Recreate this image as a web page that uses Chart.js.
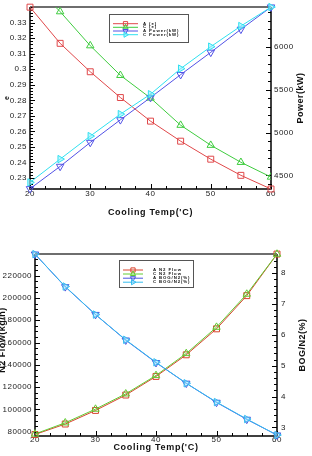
<!DOCTYPE html>
<html><head><meta charset="utf-8">
<script src="https://cdn.jsdelivr.net/npm/chart.js@4/dist/chart.umd.min.js"></script>
<style>
html,body{margin:0;padding:0;background:#fff;width:312px;height:456px;overflow:hidden}
canvas{position:absolute;left:0}
</style></head><body>
<canvas id="c1" width="312" height="228" style="top:0"></canvas>
<canvas id="c2" width="312" height="228" style="top:228px"></canvas>
<script>
// ---------- data ----------
const temps = [20, 25, 30, 35, 40, 45, 50, 55, 60];
const effA = [0.3400, 0.3167, 0.2984, 0.2818, 0.2666, 0.2537, 0.2421, 0.2317, 0.2229];
const effC = [0.3570, 0.3371, 0.3152, 0.2961, 0.2815, 0.2640, 0.2511, 0.2401, 0.2306];
const powerA = [4345, 4605, 4884, 5148, 5407, 5674, 5934, 6202, 6461];
const powerC = [4419, 4690, 4958, 5214, 5446, 5744, 6000, 6240, 6461];
const flowA = [77500, 86900, 99100, 112900, 129600, 149000, 172300, 202100, 239400];
const flowC = [78000, 88000, 100300, 114000, 130500, 150200, 173800, 203500, 239400];
const bogA = [8.62, 7.56, 6.66, 5.83, 5.10, 4.43, 3.81, 3.26, 2.75];
const bogC = [8.62, 7.57, 6.66, 5.84, 5.11, 4.43, 3.82, 3.27, 2.75];

const xTicks = [20, 30, 40, 50, 60];
const effTicks = [0.23, 0.24, 0.25, 0.26, 0.27, 0.28, 0.29, 0.30, 0.31, 0.32, 0.33];
const powerTicks = [4500, 5000, 5500, 6000];
const flowTicks = [80000, 100000, 120000, 140000, 160000, 180000, 200000, 220000];
const bogTicks = [3, 4, 5, 6, 7, 8];

const labels1 = ['A (e)', 'C (e)', 'A Power(kW)', 'C Power(kW)'];
const labels2 = ['A N2 Flow', 'C N2 Flow', 'A BOG/N2(%)', 'C BOG/N2(%)'];
const xTitle = "Cooling Temp('C)";
const effTitle = 'e';
const powerTitle = 'Power(kW)';
const flowTitle = 'N2 Flow(kg/h)';
const bogTitle = 'BOG/N2(%)';

// ---------- helpers ----------
const FONT = "'Liberation Sans', Arial, Helvetica, sans-serif";
const pts = (xs, ys) => xs.map((x, i) => ({x: x, y: ys[i]}));

function stepValues(scale, step) {
  const out = [];
  const s = Math.ceil(scale.min / step - 1e-9);
  for (let k = s; k * step <= scale.max + 1e-9; k++) out.push(k * step);
  return out;
}
function isMajor(v, arr) { return arr.some(m => Math.abs(m - v) < 1e-7 * Math.max(1, Math.abs(m))); }

const decor = {
  id: 'decor',
  beforeDraw(chart) { chart.ctx.letterSpacing = '0.45px'; },
  beforeDatasetsDraw(chart, args, o) {
    const {ctx, chartArea: a, scales} = chart;
    ctx.save();
    ctx.letterSpacing = '0px';
    ctx.strokeStyle = '#6e6e6e'; ctx.lineWidth = 2;
    ctx.beginPath(); ctx.moveTo(a.left, a.top); ctx.lineTo(a.right, a.top); ctx.stroke();
    ctx.strokeStyle = '#000'; ctx.lineWidth = 1.5;
    ctx.beginPath();
    ctx.moveTo(a.left, a.top); ctx.lineTo(a.left, a.bottom); ctx.lineTo(a.right, a.bottom); ctx.lineTo(a.right, a.top);
    ctx.stroke();
    ctx.lineWidth = 1;
    ctx.beginPath();
    const xs = scales.x;
    for (const v of stepValues(xs, o.xMinor)) {
      const p = Math.round(xs.getPixelForValue(v)) + 0.5;
      const L = isMajor(v, o.xMajor) ? o.majorLen : o.minorLen;
      ctx.moveTo(p, a.bottom); ctx.lineTo(p, a.bottom - L);
    }
    const yl = scales[o.leftId];
    for (const v of stepValues(yl, o.leftMinor)) {
      const p = Math.round(yl.getPixelForValue(v)) + 0.5;
      const L = isMajor(v, o.leftMajor) ? o.majorLen : o.minorLen;
      ctx.moveTo(a.left, p); ctx.lineTo(a.left + L, p);
    }
    const yr = scales[o.rightId];
    for (const v of stepValues(yr, o.rightMinor)) {
      const p = Math.round(yr.getPixelForValue(v)) + 0.5;
      const L = isMajor(v, o.rightMajor) ? o.majorLen : o.minorLen;
      ctx.moveTo(a.right, p); ctx.lineTo(a.right - L, p);
    }
    ctx.stroke();
    ctx.restore();
  },
  afterDatasetsDraw(chart, args, o) {
    const ctx = chart.ctx, lg = o.legend;
    ctx.save();
    ctx.letterSpacing = '0px';
    ctx.fillStyle = '#fff';
    ctx.fillRect(lg.x, lg.y, lg.w, lg.h);
    ctx.strokeStyle = '#555'; ctx.lineWidth = 1;
    ctx.strokeRect(lg.x + 0.5, lg.y + 0.5, lg.w, lg.h);
    chart.data.datasets.forEach((ds, i) => {
      const y = lg.rows[i];
      ctx.strokeStyle = ds.borderColor; ctx.lineWidth = 1;
      ctx.beginPath(); ctx.moveTo(lg.x1, y); ctx.lineTo(lg.x2, y); ctx.stroke();
      ctx.fillStyle = ds.pointBackgroundColor;
      Chart.helpers.drawPoint(ctx, {pointStyle: ds.pointStyle, rotation: ds.pointRotation || 0, radius: 3, borderWidth: 1}, (lg.x1 + lg.x2) / 2, y);
      ctx.fillStyle = '#111';
      ctx.letterSpacing = '0.9px';
      ctx.font = 'bold 4.3px ' + FONT;
      ctx.textAlign = 'left'; ctx.textBaseline = 'middle';
      ctx.fillText(ds.label, lg.tx, y);
      ctx.letterSpacing = '0px';
    });
    ctx.restore();
  },
  afterDraw(chart, args, o) {
    const ctx = chart.ctx;
    ctx.save();
    ctx.fillStyle = '#111';
    ctx.textAlign = 'center'; ctx.textBaseline = 'middle';
    for (const t of o.titles) {
      ctx.font = 'bold ' + t.size + 'px ' + FONT;
      ctx.letterSpacing = t.ls + 'px';
      ctx.save();
      ctx.translate(t.x, t.y);
      if (t.rot) ctx.rotate(-Math.PI / 2);
      ctx.fillText(t.text, 0, 0);
      ctx.restore();
    }
    ctx.restore();
  }
};

function fixW(w) { return s => { s.width = w; s.paddingTop = 0; s.paddingBottom = 0; s.paddingLeft = 0; s.paddingRight = 0; }; }
function fixH(h) { return s => { s.height = h; s.paddingTop = 0; s.paddingBottom = 0; s.paddingLeft = 0; s.paddingRight = 0; }; }
const tickFont = {family: FONT, size: 8, lineHeight: 1};

function series(label, xs, ys, color, style, rot, fill, axis, extra) {
  return Object.assign({
    label: label, data: pts(xs, ys), yAxisID: axis,
    borderColor: color, borderWidth: 1,
    pointStyle: style, pointRotation: rot, pointRadius: style === 'rect' ? 4.2 : 4.3,
    pointBorderColor: color, pointBackgroundColor: fill, pointBorderWidth: 1,
    tension: 0, fill: false, clip: 6
  }, extra || {});
}

// ---------- chart 1 ----------
new Chart(document.getElementById('c1'), {
  type: 'line',
  data: {
    datasets: [
      series(labels1[0], temps, effA, '#e0484a', 'rect', 0, 'rgba(255,255,255,0)', 'yE', {order: 4}),
      series(labels1[1], temps, effC, '#3fcc3f', 'triangle', 0, 'rgba(255,255,255,0)', 'yE', {order: 3, clip: 0}),
      series(labels1[2], temps, powerA, '#5252e6', 'triangle', 180, 'rgba(255,255,255,0)', 'yP', {order: 2}),
      series(labels1[3], temps, powerC, '#2fe0f0', 'triangle', 90, 'rgba(150,240,255,0.6)', 'yP', {order: 1})
    ]
  },
  options: {
    responsive: false, animation: false, devicePixelRatio: 1,
    layout: {padding: {top: 7, left: 0, right: 0, bottom: 0}},
    plugins: {
      legend: {display: false}, tooltip: {enabled: false},
      decor: {
        xMajor: xTicks, xMinor: 2.5, leftId: 'yE', leftMajor: effTicks, leftMinor: 0.002,
        rightId: 'yP', rightMajor: powerTicks, rightMinor: 100, majorLen: 5, minorLen: 3,
        legend: {x: 109, y: 14, w: 79, h: 28, x1: 113, x2: 138, tx: 143, rows: [23.7, 27.3, 31, 34.7]},
        titles: [
          {text: xTitle, x: 150.5, y: 213, size: 9, ls: 0.7, rot: false},
          {text: effTitle, x: 7, y: 98, size: 7, ls: 0, rot: true},
          {text: powerTitle, x: 301, y: 98, size: 9, ls: 0.5, rot: true}
        ]
      }
    },
    scales: {
      x: {
        type: 'linear', position: 'bottom', min: 20, max: 60,
        grid: {display: false, drawTicks: false}, border: {display: false},
        afterBuildTicks: s => { s.ticks = xTicks.map(v => ({value: v})); },
        afterFit: fixH(39),
        ticks: {font: tickFont, color: '#222', padding: 1, maxRotation: 0, callback: v => String(v)}
      },
      yE: {
        type: 'linear', position: 'left', min: 0.2229, max: 0.3401,
        grid: {display: false, drawTicks: false}, border: {display: false},
        afterBuildTicks: s => { s.ticks = effTicks.map(v => ({value: v})); },
        afterFit: fixW(30),
        ticks: {font: tickFont, color: '#222', padding: 3, callback: v => String(Number(v.toFixed(2)))}
      },
      yP: {
        type: 'linear', position: 'right', min: 4342, max: 6462,
        grid: {display: false, drawTicks: false}, border: {display: false},
        afterBuildTicks: s => { s.ticks = powerTicks.map(v => ({value: v})); },
        afterFit: fixW(41),
        ticks: {font: tickFont, color: '#222', padding: 3, callback: v => String(v)}
      }
    }
  },
  plugins: [decor]
});

// ---------- chart 2 ----------
new Chart(document.getElementById('c2'), {
  type: 'line',
  data: {
    datasets: [
      series(labels2[0], temps, flowA, '#d8442e', 'rect', 0, 'rgba(255,255,255,0)', 'yF', {order: 4}),
      series(labels2[1], temps, flowC, '#62cc34', 'triangle', 0, 'rgba(255,255,255,0)', 'yF', {order: 3}),
      series(labels2[2], temps, bogA, '#4a55e0', 'triangle', 180, 'rgba(255,255,255,0)', 'yB', {order: 2}),
      series(labels2[3], temps, bogC, '#34bdf0', 'triangle', 90, 'rgba(150,220,255,0.5)', 'yB', {order: 1})
    ]
  },
  options: {
    responsive: false, animation: false, devicePixelRatio: 1,
    layout: {padding: {top: 26, left: 0, right: 0, bottom: 0}},
    plugins: {
      legend: {display: false}, tooltip: {enabled: false},
      decor: {
        xMajor: xTicks, xMinor: 2.5, leftId: 'yF', leftMajor: flowTicks, leftMinor: 5000,
        rightId: 'yB', rightMajor: bogTicks, rightMinor: 0.2, majorLen: 5, minorLen: 3,
        legend: {x: 119, y: 32, w: 74, h: 27, x1: 123, x2: 143, tx: 153, rows: [42, 46, 50.2, 54.2]},
        titles: [
          {text: xTitle, x: 156, y: 220, size: 9, ls: 0.7, rot: false},
          {text: flowTitle, x: 3, y: 112, size: 9, ls: 0.5, rot: true},
          {text: bogTitle, x: 303, y: 117, size: 9, ls: 0.5, rot: true}
        ]
      }
    },
    scales: {
      x: {
        type: 'linear', position: 'bottom', min: 20, max: 60,
        grid: {display: false, drawTicks: false}, border: {display: false},
        afterBuildTicks: s => { s.ticks = xTicks.map(v => ({value: v})); },
        afterFit: fixH(20),
        ticks: {font: tickFont, color: '#222', padding: 0, maxRotation: 0, callback: v => String(v)}
      },
      yF: {
        type: 'linear', position: 'left', min: 76150, max: 239450,
        grid: {display: false, drawTicks: false}, border: {display: false},
        afterBuildTicks: s => { s.ticks = flowTicks.map(v => ({value: v})); },
        afterFit: fixW(35),
        ticks: {font: tickFont, color: '#222', padding: 3, callback: v => String(v)}
      },
      yB: {
        type: 'linear', position: 'right', min: 2.72, max: 8.625,
        grid: {display: false, drawTicks: false}, border: {display: false},
        afterBuildTicks: s => { s.ticks = bogTicks.map(v => ({value: v})); },
        afterFit: fixW(35),
        ticks: {font: tickFont, color: '#222', padding: 4, callback: v => String(v)}
      }
    }
  },
  plugins: [decor]
});
</script>
</body></html>
